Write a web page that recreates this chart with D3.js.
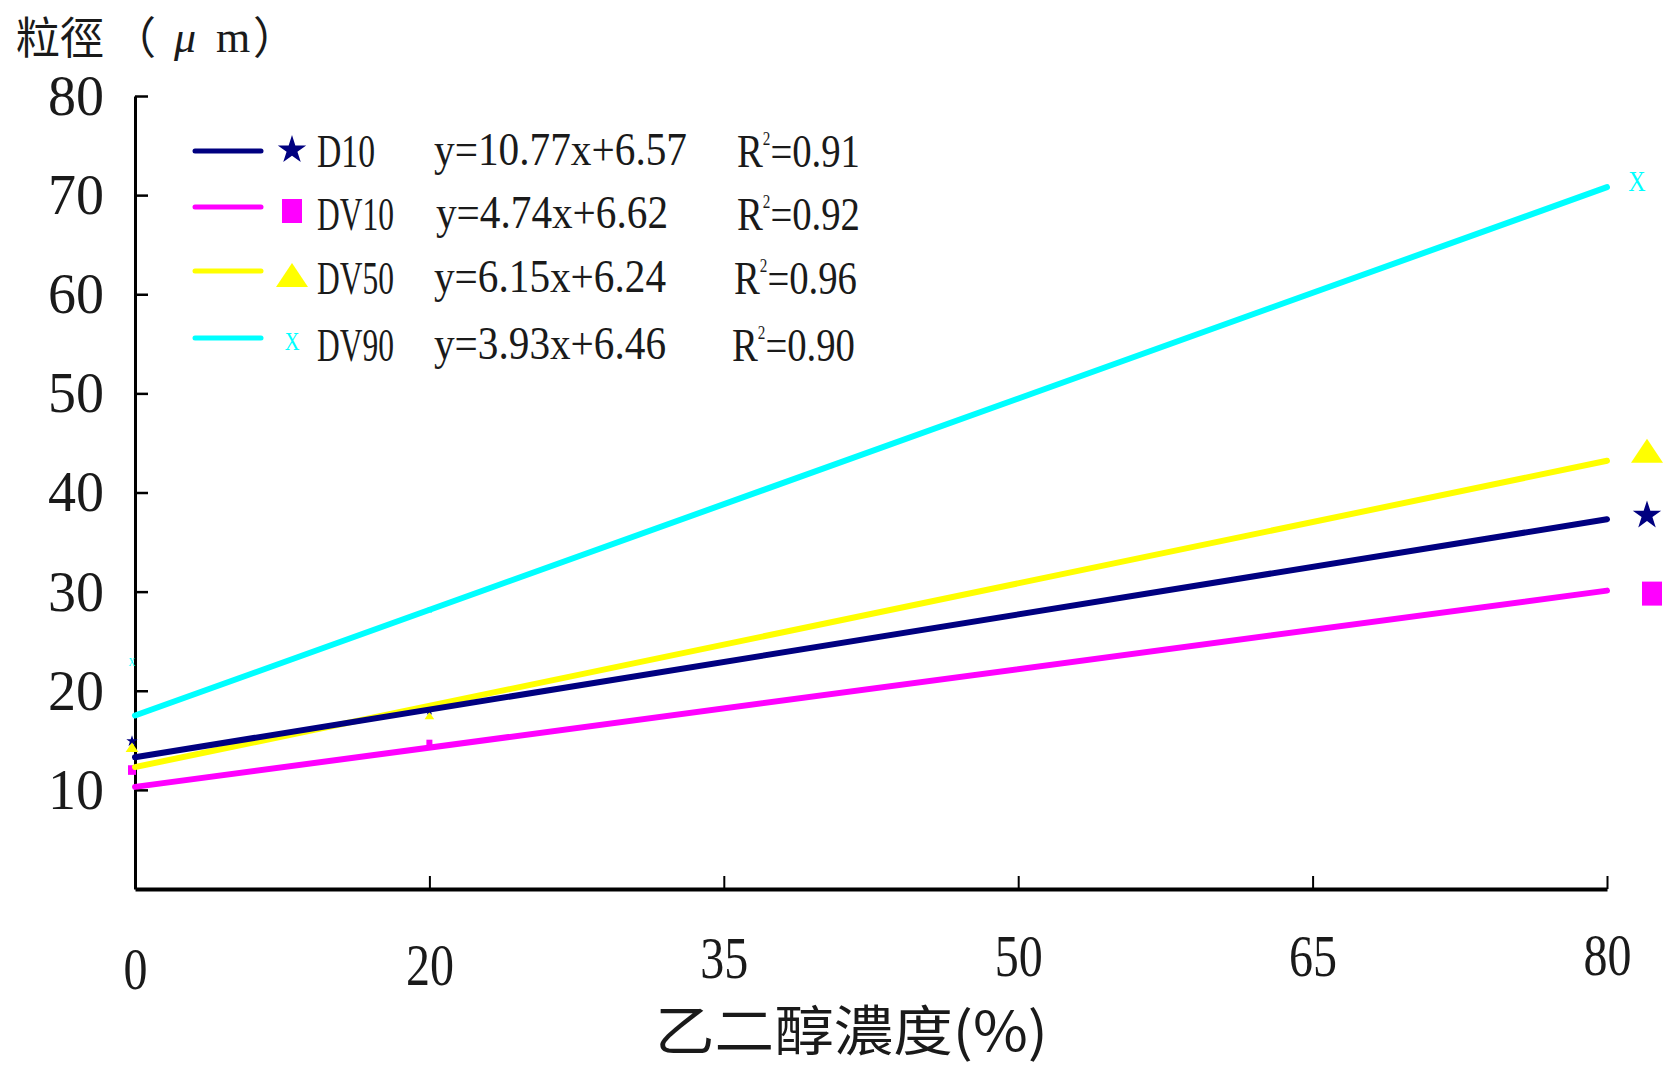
<!DOCTYPE html>
<html>
<head>
<meta charset="utf-8">
<script src="https://cdn.jsdelivr.net/npm/d3@7"></script>
<style>
  body { margin: 0; background: #fff; }
  svg text { font-family: "Liberation Serif", serif; fill: #1a1a1a; }
  .cjk { font-family: "Noto Sans CJK TC", sans-serif; }
</style>
</head>
<body>
<svg id="chart" width="1669" height="1066"></svg>
<script>

////////////////////////// DATA //////////////////////////

const categories = ['0', '20', '35', '50', '65', '80']
const yTicks = [10, 20, 30, 40, 50, 60, 70, 80]
const seriesNames = ['D10', 'DV10', 'DV50', 'DV90']
const seriesColors = ['#000080', '#ff00ff', '#ffff00', '#00ffff']
const equations = ['y=10.77x+6.57', 'y=4.74x+6.62', 'y=6.15x+6.24', 'y=3.93x+6.46']
const rSquared = ['0.91', '0.92', '0.96', '0.90']

// trend line values at 0% and 80%
const trendStart = [13.3, 10.3, 12.3, 17.5]
const trendEnd = [37.3, 30.1, 43.2, 70.8]

// measured points (mostly hidden under the lines)
const pointsAt0 = [15.0, 12.0, 14.3, 22.9]
const pointsAt20 = [18.0, 14.7, 17.5, 28.1]
const lastPoints = [37.9, 29.8, 44.2, 71.4]


////////////////////////// SETUP //////////////////////////

const svg = d3.select('#chart')

const xScale = d3.scalePoint().domain(categories).range([135, 1607])
const yScale = d3.scaleLinear().domain([0, 80]).range([889, 96])

// marker shapes: star, square, triangle, x
const drawMarker = (g, i, cx, cy, k) => {
  const color = seriesColors[i]
  if (i === 0) {
    g.append('path')
      .attr('d', d3.symbol(d3.symbolStar, 250 * k * k)())
      .attr('transform', `translate(${cx},${cy + 2 * k})`)
      .attr('fill', color)
  } else if (i === 1) {
    g.append('rect')
      .attr('x', cx - 10 * k).attr('y', cy - 12 * k)
      .attr('width', 20 * k).attr('height', 24 * k)
      .attr('fill', color)
  } else if (i === 2) {
    g.append('path')
      .attr('d', `M${cx},${cy - 12 * k}L${cx + 16 * k},${cy + 12 * k}L${cx - 16 * k},${cy + 12 * k}Z`)
      .attr('fill', color)
  } else {
    g.append('text')
      .attr('x', cx).attr('y', cy + 10 * k)
      .attr('text-anchor', 'middle')
      .attr('font-size', 30 * k)
      .attr('transform', `translate(${cx},0) scale(0.8,1) translate(${-cx},0)`)
      .style('fill', color)
      .text('X')
  }
}


////////////////////////// AXES //////////////////////////

const yAxisG = svg.append('g')
  .attr('transform', `translate(${xScale('0')},0)`)
  .call(d3.axisLeft(yScale).tickValues(yTicks).tickSizeInner(-13).tickSizeOuter(0).tickPadding(31))

yAxisG.select('.domain').attr('stroke', '#000').attr('stroke-width', 3)
yAxisG.selectAll('.tick line').attr('stroke', '#000').attr('stroke-width', 2.5)
yAxisG.selectAll('.tick text')
  .attr('font-size', 56)
  .attr('font-family', 'Liberation Serif')
  .attr('fill', '#1a1a1a')
  .attr('dy', '0.33em')

const labelDrop = [14, 10, 3, 1, 1, 0]

const xAxisG = svg.append('g')
  .attr('transform', `translate(0,${yScale(0)})`)
  .call(d3.axisBottom(xScale).tickSizeInner(-13).tickSizeOuter(0).tickPadding(0))

xAxisG.select('.domain').attr('stroke', '#000').attr('stroke-width', 4)
xAxisG.selectAll('.tick line').attr('stroke', '#000').attr('stroke-width', 2)
xAxisG.selectAll('.tick text')
  .attr('font-size', 60)
  .attr('font-family', 'Liberation Serif')
  .attr('fill', '#1a1a1a')
  .attr('dy', 0)
  .attr('y', (d, i) => 86 + labelDrop[i])
  .attr('transform', 'scale(0.8,1)')


////////////////////////// TITLES //////////////////////////

const yTitle = svg.append('g')
yTitle.append('text').attr('class', 'cjk').attr('x', 16).attr('y', 54)
  .attr('font-size', 44).text('粒徑')
yTitle.append('text').attr('class', 'cjk').attr('x', 112).attr('y', 54)
  .attr('font-size', 44).text('（')
yTitle.append('text').attr('x', 174).attr('y', 52)
  .attr('font-size', 44).attr('font-style', 'italic').text('μ')
yTitle.append('text').attr('x', 216).attr('y', 52)
  .attr('font-size', 44).text('m')
yTitle.append('text').attr('class', 'cjk').attr('x', 253).attr('y', 54)
  .attr('font-size', 44).text('）')

svg.append('text')
  .attr('class', 'cjk')
  .attr('x', 655).attr('y', 1051)
  .attr('font-size', 54)
  .attr('textLength', 393)
  .attr('lengthAdjust', 'spacingAndGlyphs')
  .text('乙二醇濃度(%)')


////////////////////////// SERIES //////////////////////////

const line = d3.line()
  .x((d) => xScale(d.cat))
  .y((d) => yScale(d.v))

const pointsG = svg.append('g')
seriesNames.forEach((name, i) => {
  drawMarker(pointsG, i, xScale('0') - 3, yScale(pointsAt0[i]), 0.4)
  drawMarker(pointsG, i, xScale('20'), yScale(pointsAt20[i]), 0.3)
})

// draw order: magenta, yellow, navy, cyan
const drawOrder = [1, 2, 0, 3]
svg.append('g').selectAll('path')
  .data(drawOrder)
  .enter()
  .append('path')
  .attr('d', (i) => line([
    { cat: categories[0], v: trendStart[i] },
    { cat: categories[categories.length - 1], v: trendEnd[i] }
  ]))
  .attr('fill', 'none')
  .attr('stroke', (i) => seriesColors[i])
  .attr('stroke-width', 6)
  .attr('stroke-linecap', 'round')

// last points shown right of the axis end
const lastOffset = [40, 45, 40, 30]
const endG = svg.append('g')
seriesNames.forEach((name, i) => {
  drawMarker(endG, i, xScale(categories[categories.length - 1]) + lastOffset[i], yScale(lastPoints[i]), 1)
})


////////////////////////// LEGEND //////////////////////////

const rowY = [151, 214, 278, 345]
const nameWidth = [58, 77, 77, 77]
const eqWidth = [253, 232, 232, 232]
const rX = [737, 737, 734, 732]
const eqX = [434, 436, 434, 434]

const legend = svg.append('g')
seriesNames.forEach((name, i) => {
  const cy = rowY[i]
  legend.append('line')
    .attr('x1', 195).attr('x2', 261)
    .attr('y1', cy - (i === 0 ? 0 : 7)).attr('y2', cy - (i === 0 ? 0 : 7))
    .attr('stroke', seriesColors[i])
    .attr('stroke-width', 5)
    .attr('stroke-linecap', 'round')

  drawMarker(legend, i, 292, cy - 3, i === 3 ? 0.85 : 1)

  legend.append('text')
    .attr('x', 317).attr('y', cy + 16)
    .attr('font-size', 46)
    .attr('textLength', nameWidth[i])
    .attr('lengthAdjust', 'spacingAndGlyphs')
    .text(name)

  legend.append('text')
    .attr('x', eqX[i]).attr('y', cy + 14)
    .attr('font-size', 46)
    .attr('textLength', eqWidth[i])
    .attr('lengthAdjust', 'spacingAndGlyphs')
    .text(equations[i])

  // R² as one text with a raised small 2
  const rText = legend.append('text')
    .attr('x', rX[i]).attr('y', cy + 16)
    .attr('font-size', 46)
    .attr('textLength', 123)
    .attr('lengthAdjust', 'spacingAndGlyphs')
  rText.append('tspan').text('R')
  rText.append('tspan').attr('font-size', 18).attr('dy', -22).text('2')
  rText.append('tspan').attr('dy', 22).text('=' + rSquared[i])
})

</script>
</body>
</html>
